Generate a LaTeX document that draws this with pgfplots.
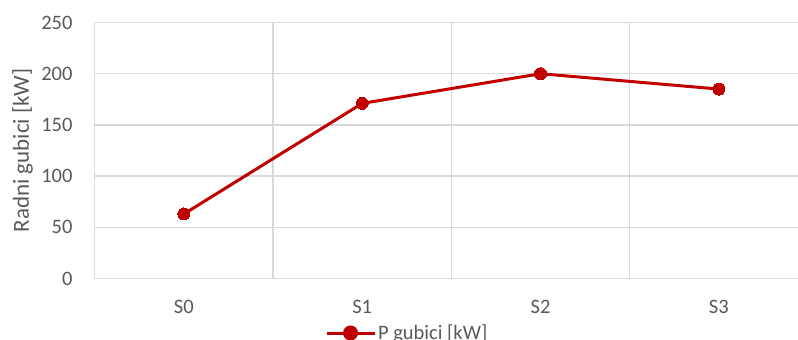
\documentclass[border=0pt]{standalone}
\usepackage{pgfplots}
\pgfplotsset{compat=1.18}
\usepackage{fontspec}
\setmainfont{Carlito}
\definecolor{lossred}{HTML}{C00000}
\definecolor{gridgray}{HTML}{D9D9D9}
\definecolor{labelgray}{HTML}{595959}
\begin{document}
\begin{tikzpicture}[x=1pt,y=1pt]
\path[use as bounding box] (0,0) rectangle (798,340);
\clip (0,0) rectangle (798,340);
\begin{axis}[
  at={(94.7pt,61.5pt)}, anchor=south west,
  scale only axis, width=713.3pt, height=256pt,
  xmin=-0.5, xmax=3.5, ymin=0, ymax=250,
  xtick={0,1,2,3}, xticklabels={S0,S1,S2,S3},
  minor xtick={-0.5,0.5,1.5,2.5,3.5},
  ytick={0,50,...,250},
  xminorgrids, ymajorgrids,
  grid style={gridgray, line width=1.5pt},
  minor grid style={gridgray, line width=1.5pt},
  axis line style={draw=none},
  major tick length=0pt, minor tick length=0pt,
  tick style={draw=none},
  /pgf/number format/assume math mode=true,
  ticklabel style={font=\fontsize{20.5}{24}\selectfont, text=labelgray},
  yticklabel style={anchor=east, inner sep=0pt, xshift=-22pt},
  xticklabel style={anchor=north, inner sep=0pt, yshift=-21pt},
  ylabel={Radni gubici [kW]},
  ylabel style={font=\fontsize{23}{27}\selectfont, text=labelgray,
    at={(axis description cs:-0.1012,0.5)}, anchor=center},
  legend style={draw=none, fill=none, inner sep=0pt, outer sep=0pt,
    font=\fontsize{20.5}{24}\selectfont, text=labelgray,
    at={(axis description cs:0.3229,-0.2129)}, anchor=west,
    /tikz/every even column/.append style={column sep=4pt}},
  legend cell align=left,
  legend image code/.code={
    \draw[lossred, line width=3pt] (0pt,0pt) -- (48pt,0pt);
    \fill[lossred] (24pt,0pt) circle (6pt);
  },
]
\addplot[lossred, line width=3pt, mark=*, mark size=6pt,
  mark options={fill=lossred, draw=lossred, line width=0pt}]
  coordinates {(0,63) (1,171) (2,200) (3,185)};
\addlegendentry{P gubici [kW]}
\end{axis}
\end{tikzpicture}
\end{document}
